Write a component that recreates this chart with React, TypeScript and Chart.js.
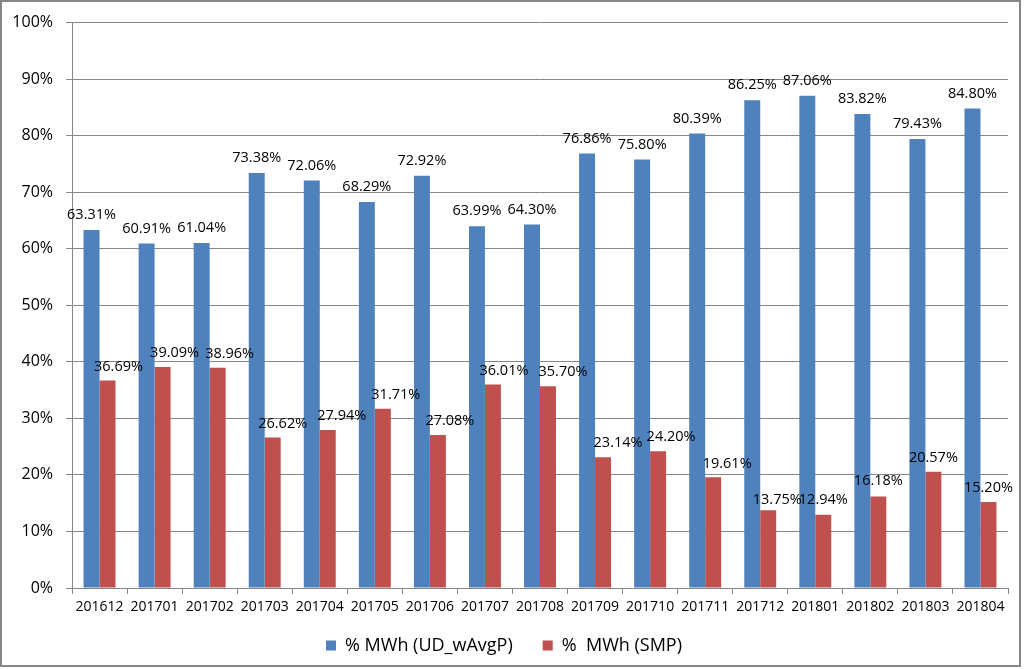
import React, { useEffect, useRef } from "react";
import { Chart, registerables } from "chart.js";

Chart.register(...registerables);

const categories = [
  "201612", "201701", "201702", "201703", "201704", "201705", "201706", "201707", "201708",
  "201709", "201710", "201711", "201712", "201801", "201802", "201803", "201804",
];

const udWAvgP = [
  63.31, 60.91, 61.04, 73.38, 72.06, 68.29, 72.92, 63.99, 64.3,
  76.86, 75.8, 80.39, 86.25, 87.06, 83.82, 79.43, 84.8,
];

const smp = [
  36.69, 39.09, 38.96, 26.62, 27.94, 31.71, 27.08, 36.01, 35.7,
  23.14, 24.2, 19.61, 13.75, 12.94, 16.18, 20.57, 15.2,
];

const yTickValues = [0, 10, 20, 30, 40, 50, 60, 70, 80, 90, 100];

const seriesNames = ["% MWh (UD_wAvgP)", "%  MWh (SMP)"];

// label placement tweaks (style only), as moved manually in the original
const smpLabelDx = [11, 12, 12, 10, 14, 13, 12, 11, 15, 15, 13, 14, 9, 0, 0, 0, 0];
const smpLabelDy = [14, 14, 14, 14, 14, 14, 14, 14, 14, 14, 14, 13, 10, 15, 16, 14, 14];

const FONT = "'Open Sans', 'Noto Sans', sans-serif";
const GRID = "#868686";

const labelPlugin = {
  id: "barLabels",
  afterDatasetsDraw(chart: any) {
    const ctx = chart.ctx;
    ctx.save();
    ctx.font = `14.5px ${FONT}`;
    ctx.fillStyle = "#000";
    ctx.textAlign = "center";
    ctx.textBaseline = "middle";
    chart.data.datasets.forEach((ds: any, di: number) => {
      const meta = chart.getDatasetMeta(di);
      meta.data.forEach((bar: any, i: number) => {
        const v = ds.data[i];
        const dx = di === 1 ? smpLabelDx[i] : 0;
        const dy = di === 1 ? smpLabelDy[i] : 15;
        ctx.fillText(v.toFixed(2) + "%", bar.x + dx, bar.y - dy);
      });
    });
    ctx.restore();
  },
};

const framePlugin = {
  id: "frame",
  afterLayout(chart: any) {
    // let x tick labels draw below the (short) reserved axis band
    if (chart.scales.x) chart.scales.x.bottom = chart.height;
  },
  beforeDraw(chart: any) {
    const ctx = chart.ctx;
    ctx.save();
    ctx.fillStyle = "#fff";
    ctx.fillRect(0, 0, chart.width, chart.height);
    ctx.restore();
  },
  afterDraw(chart: any) {
    const ctx = chart.ctx;
    ctx.save();
    ctx.strokeStyle = GRID;
    ctx.lineWidth = 2;
    ctx.strokeRect(1, 1, 1019, 665);
    ctx.restore();
  },
};

export default function App() {
  const ref = useRef<HTMLCanvasElement | null>(null);

  useEffect(() => {
    if (!ref.current) return;
    const chart = new Chart(ref.current, {
      type: "bar",
      data: {
        labels: categories,
        datasets: [
          {
            label: seriesNames[0],
            data: udWAvgP,
            backgroundColor: "#4F81BD",
            borderWidth: 0,
          },
          {
            label: seriesNames[1],
            data: smp,
            backgroundColor: "#C0504D",
            borderWidth: 0,
          },
        ],
      },
      options: {
        responsive: false,
        animation: false,
        devicePixelRatio: 1,
        layout: { padding: { left: 0, top: 19, right: 16, bottom: 4.5 } },
        datasets: {
          bar: { categoryPercentage: 0.58, barPercentage: 1 },
        },
        plugins: {
          tooltip: { enabled: false },
          legend: {
            position: "bottom",
            labels: {
              boxWidth: 10,
              boxHeight: 10,
              padding: 30,
              color: "#000",
              font: { family: FONT, size: 18 },
            },
          },
        },
        scales: {
          x: {
            grid: {
              drawOnChartArea: false,
              drawTicks: true,
              tickLength: 6,
              color: GRID,
              offset: true,
            },
            border: { color: GRID, width: 1 },
            ticks: {
              color: "#000",
              font: { family: FONT, size: 14 },
              padding: 5,
              maxRotation: 0,
              autoSkip: false,
            },
            afterFit(scale: any) {
              scale.height = 18.5;
            },
          },
          y: {
            min: 0,
            max: 100,
            afterBuildTicks(scale: any) {
              scale.ticks = yTickValues.map((v) => ({ value: v }));
            },
            grid: {
              color: GRID,
              tickLength: 6,
              drawTicks: true,
            },
            border: { color: GRID, width: 1 },
            ticks: {
              color: "#000",
              font: { family: FONT, size: 16 },
              padding: 13,
              callback: (v: any) => v + "%",
            },
            afterFit(scale: any) {
              scale.width = 72;
            },
          },
        },
      },
      plugins: [labelPlugin, framePlugin],
    } as any);
    return () => chart.destroy();
  }, []);

  return (
    <div style={{ position: "absolute", left: 0, top: 0, width: 1024, height: 669, background: "#fff" }}>
      <canvas ref={ref} width={1024} height={669} style={{ display: "block" }} />
    </div>
  );
}
